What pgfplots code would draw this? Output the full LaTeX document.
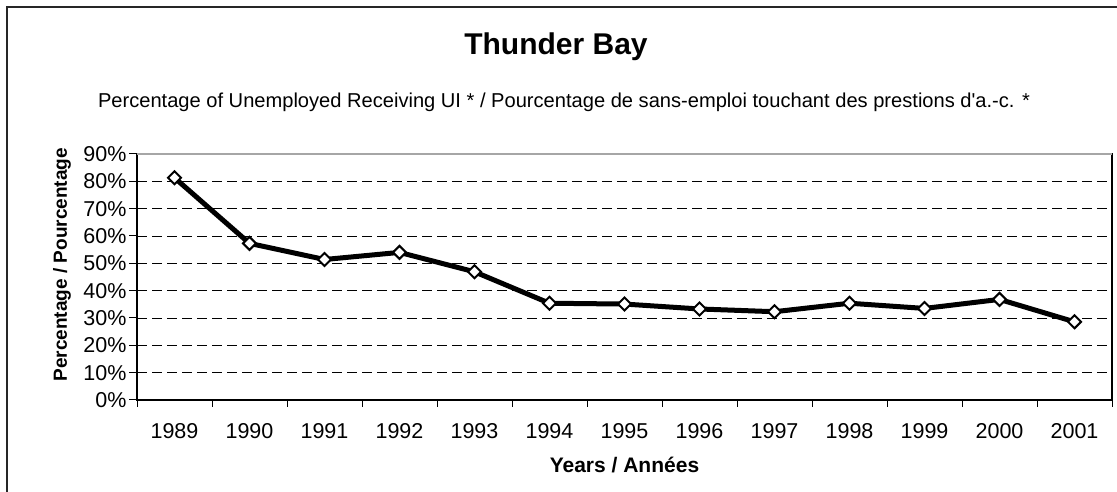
\documentclass[border=0pt]{standalone}
\usepackage{fontspec}
\setmainfont{Liberation Sans}
\newfontfamily\plainfont{Liberation Sans}
\usepackage{pgfplots}
\pgfplotsset{compat=1.18}
\begin{document}
\begin{tikzpicture}[x=1pt,y=1pt]
\useasboundingbox (0,0) rectangle (1117,492);
\fill[white] (0,0) rectangle (1117,492);
\draw[line width=1.5pt, black!85] (7,0) -- (7,485) -- (1117,485);
\node[font=\bfseries\fontsize{30}{34}\selectfont, anchor=base] at (556,437) {Thunder Bay};
\node[font=\plainfont\fontsize{20.1}{24}\selectfont, anchor=base] at (564,384) {Percentage of Unemployed Receiving UI * / Pourcentage de sans-emploi touchant des prestions d'a.-c. *};
\begin{axis}[
  at={(137pt,92pt)}, anchor=south west,
  width=975pt, height=246pt, scale only axis,
  xmin=-0.5, xmax=12.5, ymin=0, ymax=90,
  xtick={0,1,2,3,4,5,6,7,8,9,10,11,12},
  xticklabels={1989,1990,1991,1992,1993,1994,1995,1996,1997,1998,1999,2000,2001},
  major x tick style={draw=none},
  minor xtick={-0.5,0.5,...,12.5},
  minor tick length=7pt,
  major tick length=8pt,
  tick align=outside,
  xtick pos=bottom, ytick pos=left,
  tick style={black, line width=1pt},
  ytick={0,10,...,90},
  yticklabel={\pgfmathprintnumber{\tick}\%},
  /pgf/number format/assume math mode=true,
  ticklabel style={font=\fontsize{21.5}{25}\selectfont},
  xticklabel style={yshift=-12pt},
  yticklabel style={xshift=1pt},
  ymajorgrids,
  major grid style={black, line width=0.9pt, dash pattern=on 10pt off 5pt},
  axis line style={black, line width=1.2pt},
  xlabel={Years / Années},
  ylabel={Percentage / Pourcentage},
  every axis x label/.style={at={(axis description cs:0.5,0)}, anchor=base, yshift=-73pt, font=\bfseries\fontsize{21}{25}\selectfont},
  every axis y label/.style={at={(axis description cs:-0.0769,0.55)}, anchor=center, rotate=90, font=\bfseries\fontsize{19}{23}\selectfont},
  clip=false,
]
\addplot[black, line width=5pt, mark=square*, mark size=4.6pt,
  mark options={rotate=45, fill=white, draw=black, line width=2pt}]
  coordinates {
  (0,81.3) (1,57.3) (2,51.4) (3,54.0) (4,46.9) (5,35.4) (6,35.1)
  (7,33.3) (8,32.3) (9,35.4) (10,33.5) (11,36.8) (12,28.6)
  };
\draw[gray!70, line width=1.5pt] (rel axis cs:0,1) -- (rel axis cs:1,1);
\end{axis}
\end{tikzpicture}
\end{document}
